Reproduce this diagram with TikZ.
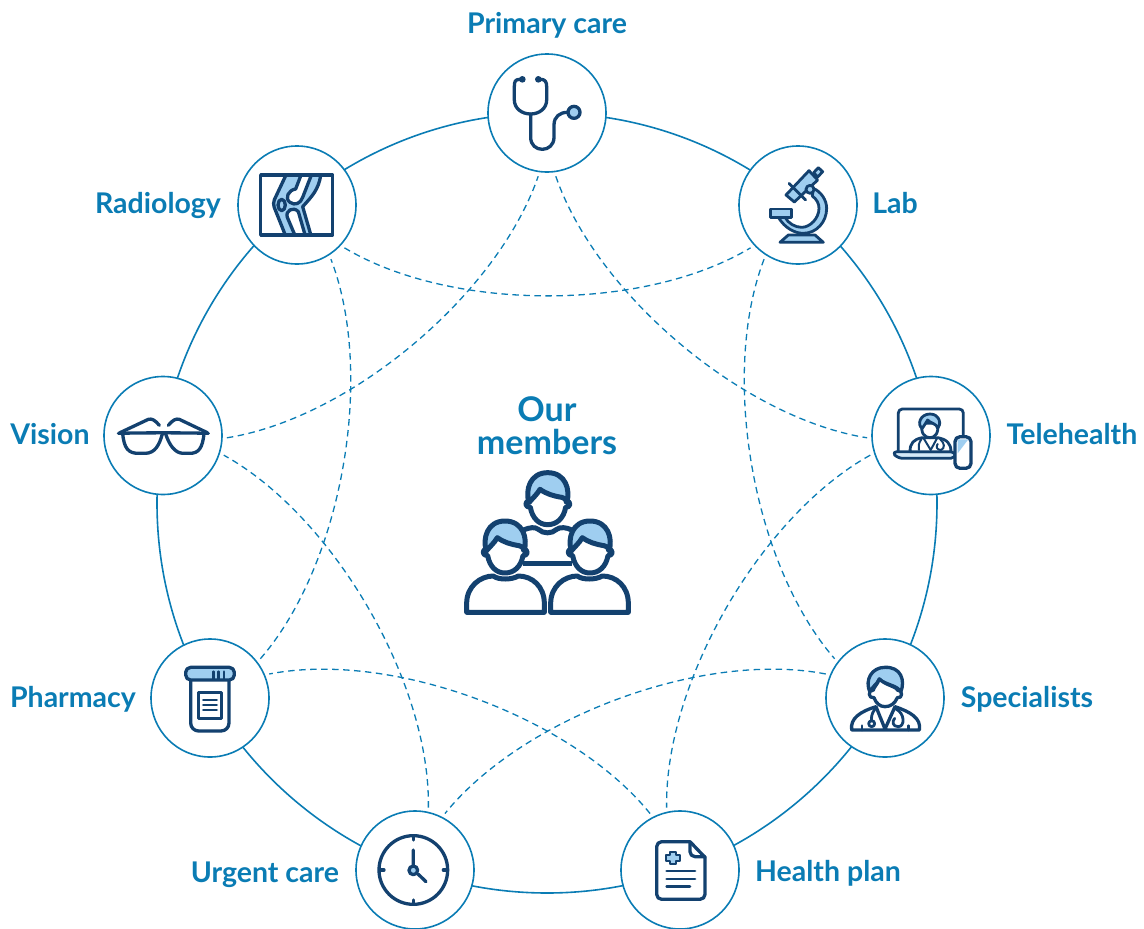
\documentclass[tikz,border=0pt]{standalone}
\usepackage{fontspec}
\setmainfont{Lato}
\definecolor{ringblue}{HTML}{0A7CB4}
\definecolor{navy}{HTML}{13416F}
\definecolor{lightb}{HTML}{9FCEF0}
\tikzset{
  hub/.style={circle,draw=ringblue,line width=1.6pt,fill=white,minimum size=118pt,inner sep=0pt,outer sep=0pt},
  bigring/.style={circle,draw=ringblue,line width=1.6pt,minimum size=780pt,inner sep=0pt,outer sep=0pt},
  link/.style={draw=ringblue,line width=1.3pt,dash pattern=on 6.5pt off 4.5pt,looseness=.8,shorten <=5pt,shorten >=5pt},
  lab/.style={text=ringblue,font=\fontsize{28.5}{30}\selectfont\bfseries,inner sep=0pt,anchor=base},
  big/.style={text=ringblue,font=\fontsize{34}{36}\selectfont\bfseries,inner sep=0pt,anchor=base},
  iconline/.style={draw=navy,line width=3.3pt,line join=round,line cap=round},
  thinicon/.style={draw=navy,line width=2.8pt,line join=round,line cap=round},
  zoomed/.style={shift={#1},x=.33333pt,y=-.33333pt}
}
\newcommand{\memberhead}{%
  \fill[white] (222,330) .. controls (222,375) and (245,405) .. (278,405) .. controls (312,405) and (335,375) .. (335,330) -- (278,290) -- cycle;
  \filldraw[fill=lightb,draw=navy,line width=5pt,line join=round,line cap=round]
    (222,338) .. controls (210,300) and (225,248) .. (278,248) .. controls (332,248) and (347,300) .. (335,338)
    .. controls (335,330) and (330,325) .. (320,322) .. controls (295,318) and (275,312) .. (255,298) .. controls (245,315) and (232,325) .. (222,338) -- cycle;
  \draw[navy,line width=5pt,line join=round,line cap=round]
    (222,332) .. controls (208,335) and (210,352) .. (226,352) .. controls (232,385) and (252,404) .. (278,404) .. controls (305,404) and (326,385) .. (332,352) .. controls (348,352) and (348,335) .. (335,332);
}
\newcommand{\memberbody}{%
  \filldraw[fill=white,draw=navy,line width=5pt,line join=round,line cap=round]
    (35,667) -- (35,640) .. controls (35,590) and (75,558) .. (115,558) .. controls (130,570) and (170,570) .. (190,558) .. controls (232,558) and (268,590) .. (268,640) -- (268,667) -- cycle;
}
\begin{document}
\begin{tikzpicture}[x=1pt,y=-1pt]
\useasboundingbox (0,0) rectangle (1144,929);
\node[bigring] (ring) at (547,503) {};
\node[hub] (pc) at (547,113) {};
\node[hub] (lb) at (798,205) {};
\node[hub] (te) at (931,435.5) {};
\node[hub] (sp) at (885,698) {};
\node[hub] (hp) at (680,870) {};
\node[hub] (uc) at (415,870) {};
\node[hub] (ph) at (210,698) {};
\node[hub] (vi) at (163,435.5) {};
\node[hub] (ra) at (297,205) {};
\foreach \a/\b/\p in {pc/te/-40,lb/sp/-80,te/hp/-120,sp/uc/-160,hp/ph/-200,uc/vi/-240,ph/ra/-280,vi/pc/-320,ra/lb/-360}{
  \pgfmathsetmacro{\sa}{\p-43}
  \pgfmathsetmacro{\ta}{\p+180+43}
  \pgfmathsetmacro{\ou}{\p-31}
  \pgfmathsetmacro{\iu}{\p+180+31}
  \draw[link] (\a.\sa) to[out=\ou,in=\iu] (\b.\ta);
}
\node[lab] (tpc) at (547,33) {Primary care};
\node[lab] (tlb) at (895,213) {Lab};
\node[lab] (tte) at (1072,444) {Telehealth};
\node[lab] (tsp) at (1027,707) {Specialists};
\node[lab] (thp) at (828,881) {Health plan};
\node[lab] (tuc) at (265,882) {Urgent care};
\node[lab] (tph) at (73,707) {Pharmacy};
\node[lab] (tvi) at (50,444) {Vision};
\node[lab] (tra) at (158,213) {Radiology};
\node[big] (tour) at (547,421) {Our};
\node[big] (tmem) at (547,454) {members};
% stethoscope
\begin{scope}[zoomed={(480,50)}]
\draw[iconline] (120,88) .. controls (105,88) and (103,95) .. (103,110) -- (103,150) .. controls (103,175) and (125,192) .. (152,192) .. controls (178,192) and (200,175) .. (200,150) -- (200,110) .. controls (200,95) and (195,88) .. (182,88);
\fill[navy] (127,88) circle[radius=10] (175,88) circle[radius=10];
\draw[iconline] (152,192) -- (152,262) .. controls (152,285) and (168,298) .. (187,298) .. controls (205,298) and (222,285) .. (222,262) -- (222,225) .. controls (222,200) and (240,187) .. (262,187);
\filldraw[iconline,fill=lightb] (282,187) circle[radius=18];
\end{scope}
% knee
\begin{scope}[zoomed={(230,140)}]
\fill[lightb] (167,107) -- (128,190) -- (165,283) -- (242,283) -- (218,200) .. controls (245,170) and (265,150) .. (272,107) -- cycle;
\filldraw[iconline,fill=white] (212,108) -- (197,147) .. controls (175,150) and (163,175) .. (180,187) .. controls (195,198) and (212,190) .. (218,172) -- (243,108);
\filldraw[iconline,fill=white] (194,284) -- (172,232) .. controls (165,212) and (190,198) .. (205,215) -- (225,284);
\draw[iconline,rounded corners=4pt] (167,107) -- (128,190) -- (165,283);
\draw[iconline] (272,107) .. controls (265,150) and (245,170) .. (218,200) -- (242,283);
\filldraw[iconline,fill=lightb] (155,195) ellipse[x radius=11,y radius=17];
\draw[iconline] (92,105) rectangle (308,285);
\end{scope}
% microscope
\begin{scope}[zoomed={(735,140)}]
\filldraw[thinicon,fill=lightb] (236,98) -- (250,83) -- (263,95) -- (248,111) -- cycle;
\filldraw[thinicon,fill=lightb] (153,165) -- (222,92) -- (248,120) -- (178,186) -- cycle;
\draw[thinicon] (162,130) -- (212,180);
\filldraw[thinicon,fill=lightb] (130,232) .. controls (150,265) and (180,280) .. (205,280) .. controls (245,280) and (275,245) .. (275,205) .. controls (275,180) and (258,155) .. (235,145) -- (232,168) .. controls (245,178) and (252,190) .. (252,205) .. controls (252,235) and (225,262) .. (200,262) .. controls (180,262) and (160,250) .. (150,232) -- cycle;
\filldraw[thinicon,fill=lightb] (225,148) circle[radius=12];
\filldraw[thinicon,fill=lightb] (106,207) rectangle (170,232);
\filldraw[thinicon,fill=lightb] (135,307) -- (160,285) -- (240,285) -- (265,307) -- cycle;
\end{scope}
% telehealth
\begin{scope}[zoomed={(865,370)}]
\draw[thinicon,rounded corners=4pt] (100,245) -- (100,117) -- (295,117) -- (295,200);
\filldraw[thinicon,fill=lightb!45,rounded corners=5pt] (80,245) -- (272,245) -- (272,265) -- (98,265) -- cycle;
\filldraw[thinicon,fill=white] (135,245) .. controls (135,220) and (145,208) .. (172,203) -- (218,203) .. controls (245,208) and (258,220) .. (258,245) -- cycle;
\draw[thinicon,line width=2pt] (176,205) -- (197,240) -- (216,205);
\draw[thinicon,line width=2pt] (170,206) .. controls (160,220) and (160,230) .. (162,240);
\draw[thinicon,line width=2pt] (225,207) .. controls (240,220) and (240,235) .. (228,240) .. controls (215,240) and (212,230) .. (218,222);
\filldraw[thinicon,fill=white] (172,160) .. controls (165,190) and (180,203) .. (195,203) .. controls (210,203) and (222,190) .. (218,160) -- cycle;
\filldraw[thinicon,fill=lightb] (172,175) .. controls (155,165) and (165,132) .. (195,132) .. controls (225,132) and (230,165) .. (218,175) .. controls (216,160) and (195,160) .. (188,150) .. controls (185,160) and (175,165) .. (172,175) -- cycle;
\fill[white,rounded corners=6pt] (270,200) rectangle (318,295);
\fill[lightb] (278,208) -- (310,208) -- (278,250) -- cycle;
\draw[iconline,rounded corners=5pt] (270,200) rectangle (318,295);
\end{scope}
% glasses
\begin{scope}[zoomed={(100,370)}]
\draw[iconline] (178,166) .. controls (165,150) and (155,145) .. (145,148) -- (60,188);
\draw[iconline] (205,166) .. controls (218,150) and (228,145) .. (238,148) -- (322,188);
\draw[iconline] (55,190) .. controls (130,188) and (250,188) .. (325,190);
\draw[iconline] (68,190) .. controls (72,235) and (85,250) .. (115,250) -- (135,250) .. controls (165,250) and (178,225) .. (187,192) .. controls (192,185) and (195,190) .. (197,192) .. controls (208,225) and (225,250) .. (250,250) -- (270,250) .. controls (295,250) and (308,235) .. (312,190);
\end{scope}
% pharmacy
\begin{scope}[zoomed={(145,635)}]
\draw[iconline,rounded corners=8pt] (137,135) -- (137,288) -- (252,288) -- (252,135);
\filldraw[iconline,fill=lightb,rounded corners=5pt] (122,135) -- (122,97) -- (268,97) -- (268,135) -- cycle;
\draw[thinicon] (205,110) -- (205,133) (221,110) -- (221,133) (237,110) -- (237,133);
\draw[iconline] (160,172) rectangle (230,250);
\draw[thinicon] (175,195) -- (215,195) (175,210) -- (215,210) (175,225) -- (215,225);
\end{scope}
% specialist
\begin{scope}[zoomed={(820,635)}]
\draw[iconline] (95,285) .. controls (90,250) and (120,230) .. (168,215) -- (195,282) -- (225,215) .. controls (270,230) and (305,250) .. (298,285) -- cycle;
\draw[thinicon] (126,272) -- (126,285) (265,272) -- (265,285);
\draw[thinicon] (165,222) .. controls (155,235) and (153,248) .. (155,258);
\draw[thinicon] (155,266) circle[radius=9];
\draw[thinicon] (228,222) .. controls (255,235) and (255,275) .. (235,275) .. controls (218,275) and (215,260) .. (224,250);
\filldraw[iconline,fill=lightb] (150,172) .. controls (133,135) and (155,97) .. (195,97) .. controls (242,95) and (257,135) .. (242,172) .. controls (235,150) and (195,150) .. (178,132) .. controls (170,150) and (155,155) .. (150,172) -- cycle;
\filldraw[iconline,fill=white] (160,165) .. controls (142,165) and (145,192) .. (162,188) .. controls (168,205) and (180,215) .. (195,215) .. controls (212,215) and (225,205) .. (232,188) .. controls (248,192) and (250,165) .. (232,165) .. controls (230,155) and (195,150) .. (178,132) .. controls (172,150) and (162,155) .. (160,165) -- cycle;
\end{scope}
% clock
\begin{scope}[zoomed={(350,800)}]
\draw[iconline] (190,210) circle[radius=103];
\draw[iconline] (190,108) -- (190,120) (190,300) -- (190,312) (90,210) -- (102,210) (280,210) -- (292,210);
\draw[iconline] (190,150) -- (190,197) (205,223) -- (228,245);
\filldraw[iconline,fill=lightb] (190,211) circle[radius=13];
\end{scope}
% health plan
\begin{scope}[zoomed={(615,800)}]
\draw[iconline,rounded corners=5pt] (225,125) -- (125,125) -- (125,298) -- (270,298) -- (270,172);
\draw[iconline] (225,125) -- (270,172);
\draw[iconline,rounded corners=5pt] (225,125) -- (225,170) -- (270,170);
\filldraw[thinicon,line width=2pt,fill=lightb] (166,155) -- (184,155) -- (184,164) -- (196,164) -- (196,182) -- (184,182) -- (184,192) -- (166,192) -- (166,182) -- (154,182) -- (154,164) -- (166,164) -- cycle;
\draw[thinicon] (155,213) -- (240,213) (155,237) -- (240,237) (155,260) -- (225,260);
\end{scope}
% members
\begin{scope}[zoomed={(455,390)}]
\draw[navy,line width=5pt,line cap=round,line join=round] (205,420) .. controls (225,412) and (240,410) .. (250,418) .. controls (265,432) and (290,432) .. (305,418) .. controls (315,410) and (335,412) .. (350,420);
\draw[navy,line width=5pt] (205,520) -- (350,520);
\memberhead
\begin{scope}[shift={(-128,145)}]\memberhead\end{scope}
\begin{scope}[shift={(127,145)}]\memberhead\end{scope}
\memberbody
\begin{scope}[shift={(252,0)}]\memberbody\end{scope}
\end{scope}
\end{tikzpicture}
\end{document}
